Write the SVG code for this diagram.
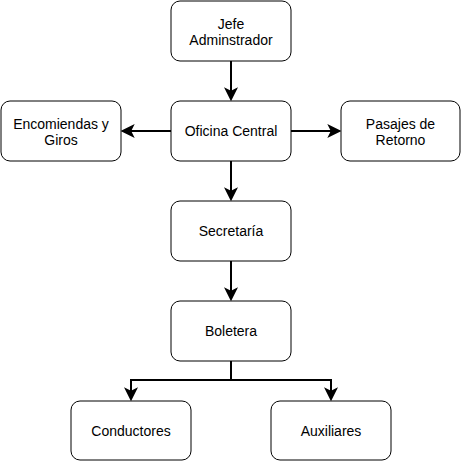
<svg xmlns="http://www.w3.org/2000/svg" width="461" height="461" viewBox="0 0 461 461">
<style>
.node rect{fill:#fff;stroke:#000;stroke-width:1}
.node text{font-family:"Liberation Sans",Arial,sans-serif;font-size:14px;fill:#000;text-anchor:middle}
.edge{fill:none;stroke:#000;stroke-width:2;marker-end:url(#arr)}
</style>
<defs>
<marker id="arr" markerUnits="userSpaceOnUse" markerWidth="14" markerHeight="14" viewBox="0 0 13 13" refX="9" refY="6.5" orient="auto">
<path d="M0,0 L13,6.5 L0,13 L3.25,6.5 Z" fill="#000"/>
</marker>
</defs>
<rect width="461" height="461" fill="#fff"/>
<g id="connectors">
<path class="edge" d="M231,61 V97"/>
<path class="edge" d="M171,131 H125"/>
<path class="edge" d="M291,131 H337"/>
<path class="edge" d="M231,161 V197"/>
<path class="edge" d="M231,261 V297"/>
<path class="edge" d="M231,361 V380 H131 V397"/>
<path class="edge" d="M231,361 V380 H331 V397"/>
</g>
<g id="jefe" class="node"><rect x="171" y="1" width="120" height="60" rx="9"/><text x="231" y="28.5">Jefe</text><text x="231" y="44.5">Adminstrador</text></g>
<g id="encomiendas" class="node"><rect x="1" y="101" width="120" height="60" rx="9"/><text x="61" y="128.5">Encomiendas y</text><text x="61" y="144.5">Giros</text></g>
<g id="oficina" class="node"><rect x="171" y="101" width="120" height="60" rx="9"/><text x="231" y="135.5">Oficina Central</text></g>
<g id="pasajes" class="node"><rect x="341" y="101" width="119" height="60" rx="9"/><text x="400.5" y="128.5">Pasajes de</text><text x="400.5" y="144.5">Retorno</text></g>
<g id="secretaria" class="node"><rect x="171" y="201" width="120" height="60" rx="9"/><text x="231" y="235.5">Secretaría</text></g>
<g id="boletera" class="node"><rect x="171" y="301" width="120" height="60" rx="9"/><text x="231" y="335.5">Boletera</text></g>
<g id="conductores" class="node"><rect x="71" y="401" width="120" height="59" rx="9"/><text x="131" y="435.5">Conductores</text></g>
<g id="auxiliares" class="node"><rect x="271" y="401" width="120" height="59" rx="9"/><text x="331" y="435.5">Auxiliares</text></g>
</svg>
